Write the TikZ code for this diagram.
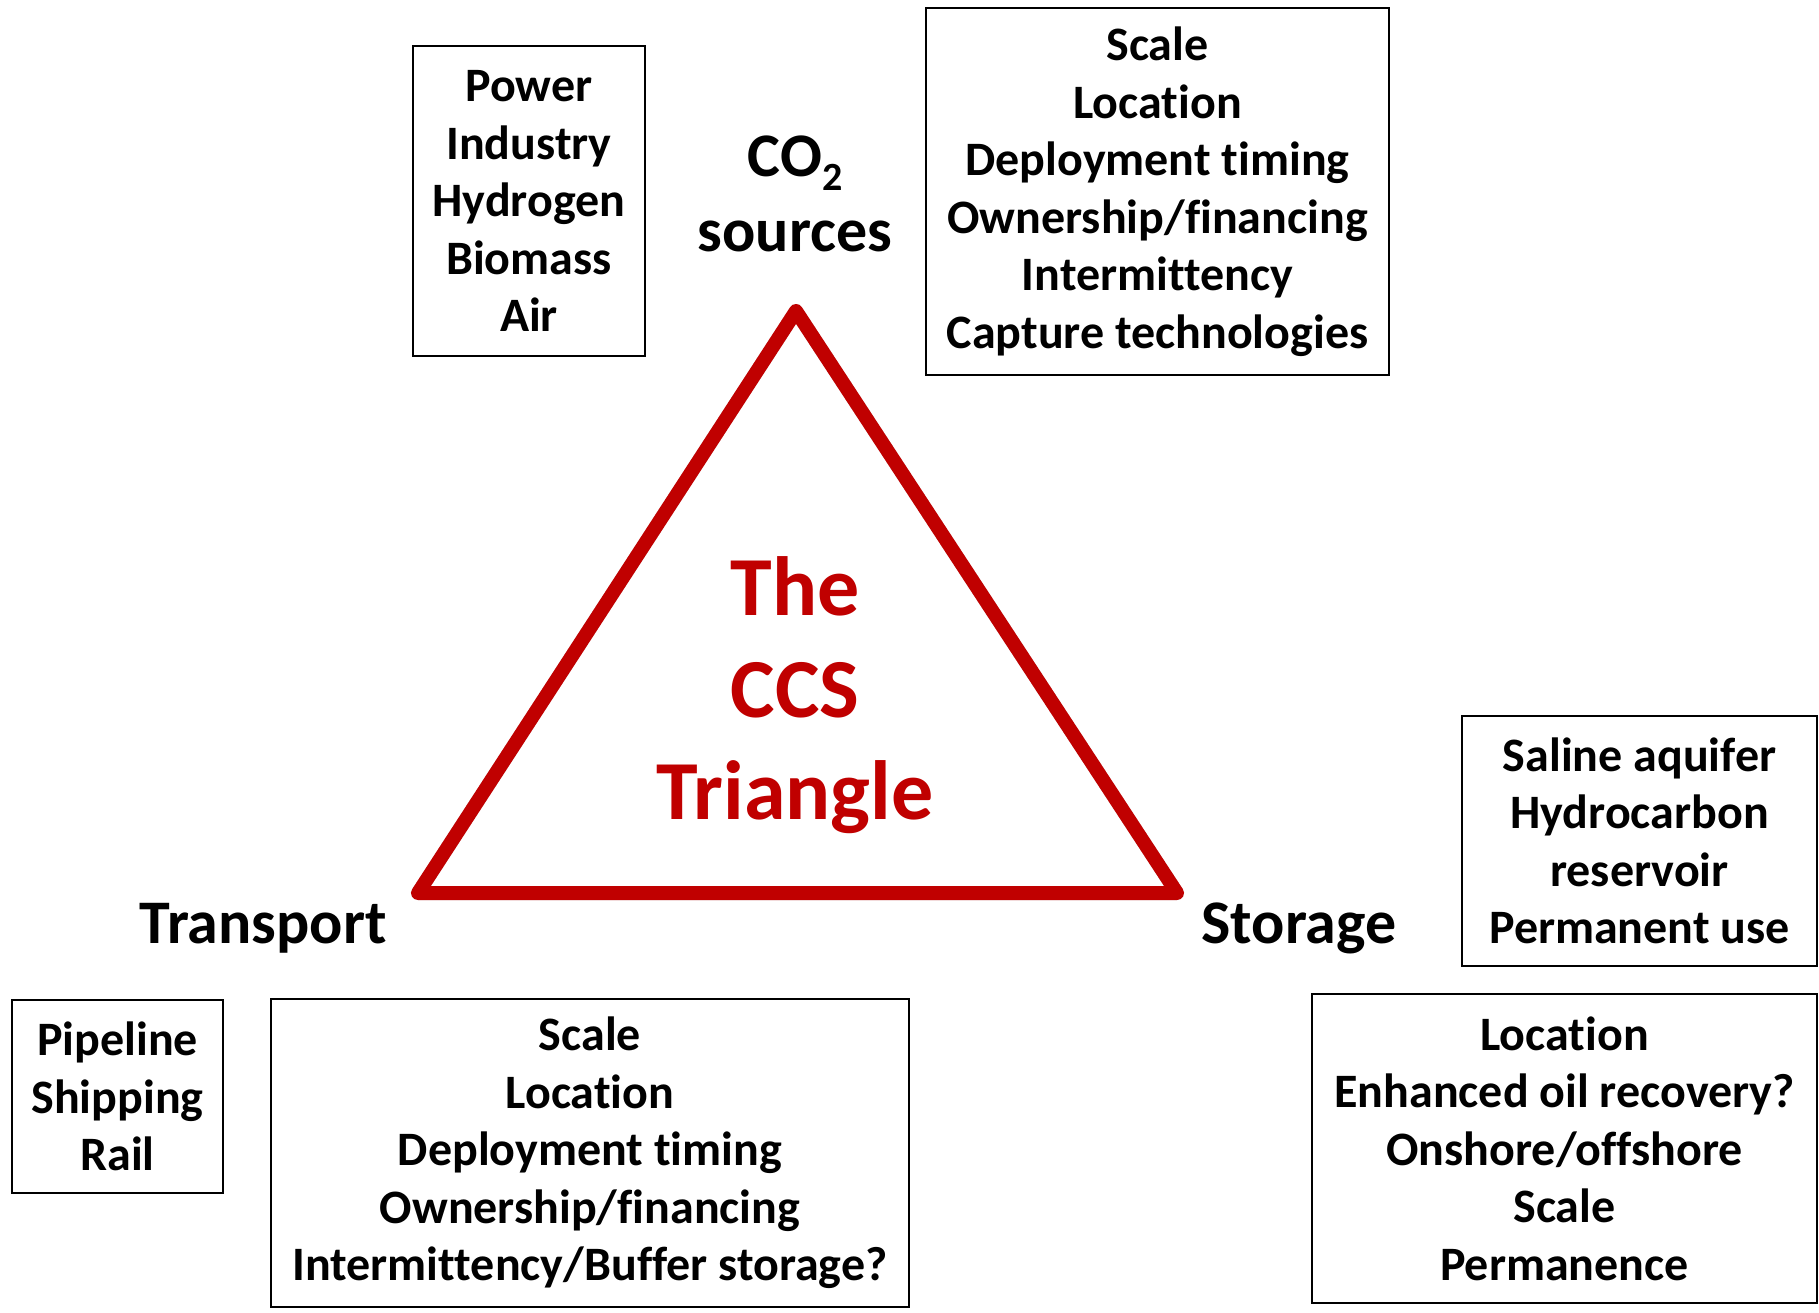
\documentclass[tikz,border=0pt]{standalone}
\usepackage{fontspec}
\setmainfont[Ligatures=NoCommon]{Carlito}
\definecolor{ccsred}{HTML}{C00000}
\begin{document}
\begin{tikzpicture}[x=1pt,y=-1pt,
  listbox/.style={draw=black,line width=1.8pt,align=center,inner sep=0pt,
    font=\fontsize{48}{57.5}\selectfont\bfseries},
  biglabel/.style={align=center,inner sep=0pt,font=\fontsize{62}{75}\selectfont\bfseries},
  tritext/.style={align=center,inner sep=0pt,text=ccsred,font=\fontsize{84}{102}\selectfont\bfseries}]
\useasboundingbox[fill=white] (0,0) rectangle (1819,1312);
% triangle
\coordinate (apex) at (796,311);
\coordinate (bl) at (418,893);
\coordinate (br) at (1177,893);
\draw[gray!50,opacity=0.6,line width=14pt,line join=round,shift={(3,4)}] (apex) -- (bl) -- (br) -- cycle;
\draw[ccsred,line width=14pt,line join=round] (apex) -- (bl) -- (br) -- cycle;
\node[tritext] (title) at (795,695) {The\\CCS\\Triangle};
% labels
\node[biglabel] (src) at (795,194) {CO\raisebox{-0.22em}{\fontsize{40}{40}\selectfont 2}\\sources};
\node[biglabel] (transport) at (263,928) {Transport};
\node[biglabel] (storage) at (1299,928) {Storage};
% boxes
\node[listbox,minimum width=232pt,minimum height=310pt] (power) at (529,201)
  {Power\\Industry\\Hydrogen\\Biomass\\Air};
\node[listbox,minimum width=463pt,minimum height=367pt] (srcissues) at (1157.5,191.5)
  {Scale\\Location\\Deployment timing\\Ownership/financing\\Intermittency\\Capture technologies};
\node[listbox,minimum width=211pt,minimum height=193pt] (modes) at (117.5,1096.5)
  {Pipeline\\Shipping\\Rail};
\node[listbox,minimum width=638pt,minimum height=308pt] (trissues) at (590,1153)
  {Scale\\Location\\Deployment timing\\Ownership/financing\\Intermittency/Buffer storage?};
\node[listbox,minimum width=355pt,minimum height=250pt] (sites) at (1639.5,841)
  {Saline aquifer\\Hydrocarbon\\reservoir\\Permanent use};
\node[listbox,minimum width=505pt,minimum height=309pt] (stissues) at (1564.5,1148.5)
  {Location\\Enhanced oil recovery?\\Onshore/offshore\\Scale\\Permanence};
\end{tikzpicture}
\end{document}
